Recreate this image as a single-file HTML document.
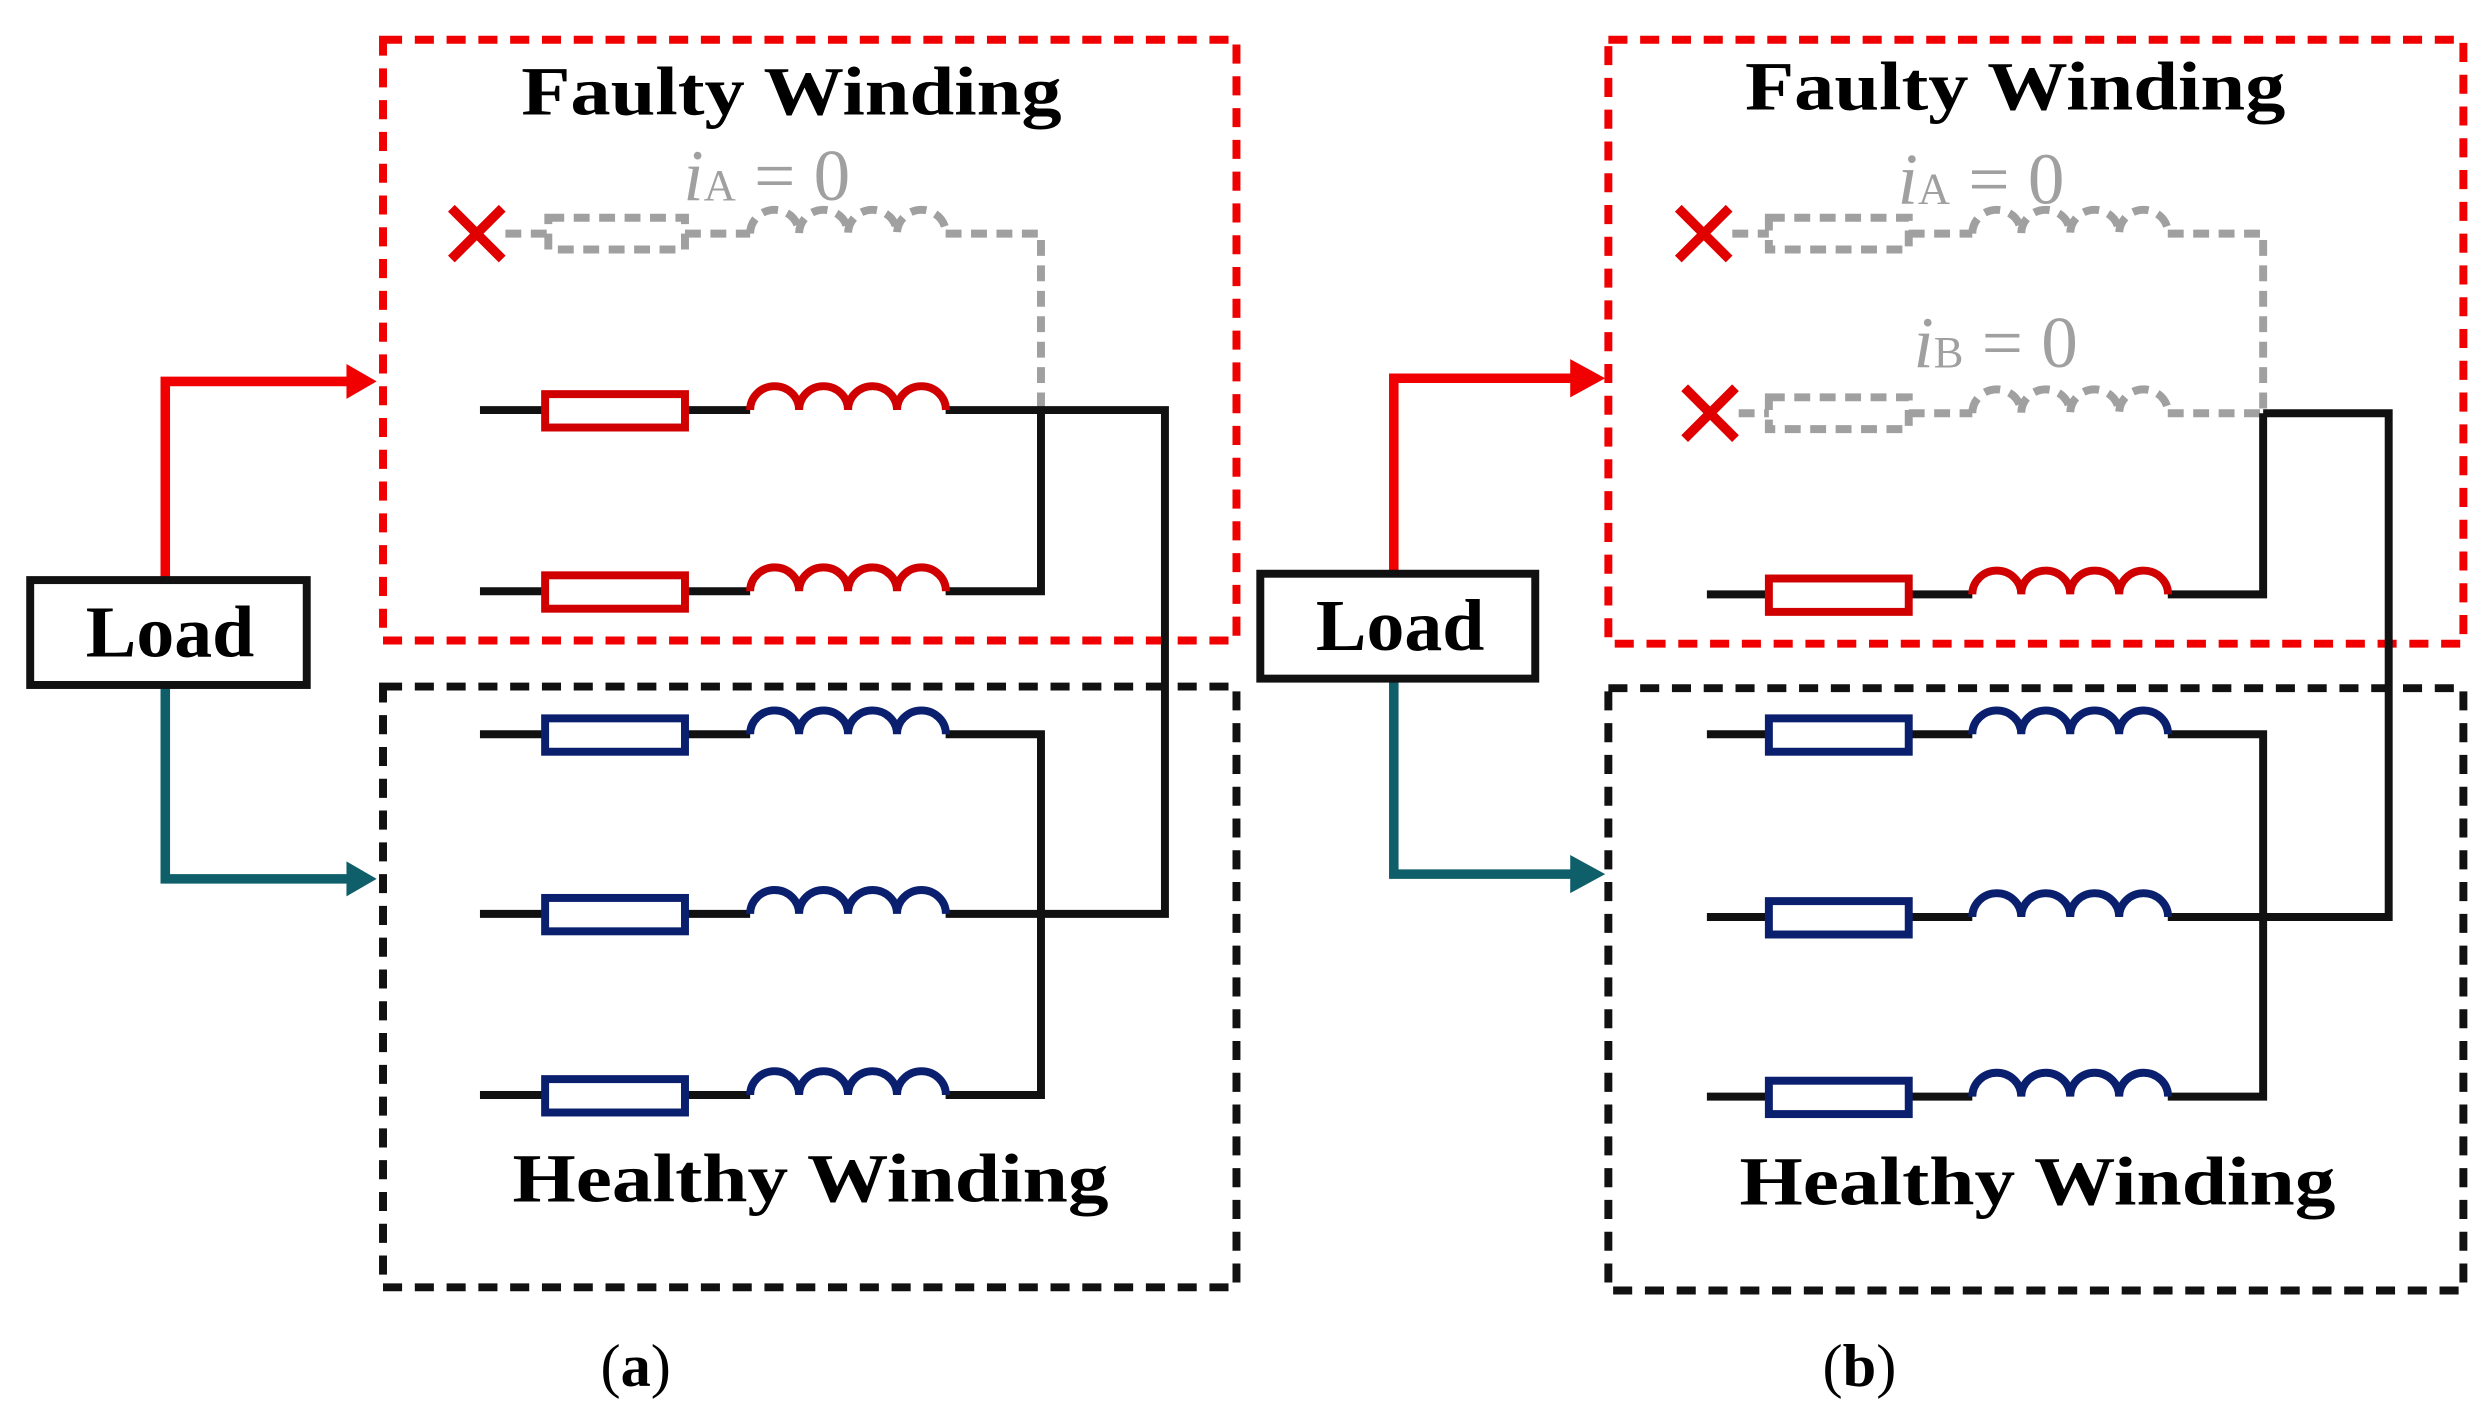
<!DOCTYPE html>
<html><head><meta charset="utf-8"><style>
html,body{margin:0;padding:0;background:#fff;}
svg{display:block;}
text{font-family:"Liberation Serif",serif;}
</style></head><body>
<svg width="2492" height="1424" viewBox="0 0 1568 896" preserveAspectRatio="none" xmlns="http://www.w3.org/2000/svg">
<defs>
<g id="ind"><path d="M0,0 a15.4,15 0 0 1 30.8,0 a15.4,15 0 0 1 30.8,0 a15.4,15 0 0 1 30.8,0 a15.4,15 0 0 1 30.8,0" fill="none" stroke-width="5"/></g>
</defs>
<rect width="1568" height="896" fill="#fff"/>

<!-- ===== Panel (a) ===== -->
<rect x="241" y="25" width="537" height="378" fill="none" stroke="#f00000" stroke-width="5" stroke-dasharray="12,8"/>
<rect x="241" y="432" width="537" height="378" fill="none" stroke="#111" stroke-width="5" stroke-dasharray="12,8"/>
<text x="498" y="72" font-size="43" font-weight="bold" text-anchor="middle" textLength="340" lengthAdjust="spacingAndGlyphs">Faulty Winding</text>
<text x="510" y="756" font-size="43" font-weight="bold" text-anchor="middle" textLength="375" lengthAdjust="spacingAndGlyphs">Healthy Winding</text>
<text x="400" y="872" font-size="38" text-anchor="middle">(<tspan font-weight="bold">a</tspan>)</text>

<text x="430" y="126" font-size="46" fill="#a0a0a0" font-style="italic">i<tspan font-size="28" font-style="normal">A</tspan><tspan font-style="normal"> = 0</tspan></text>
<g stroke="#a0a0a0" stroke-width="5" fill="none" stroke-dasharray="10,6">
<path d="M318,147 H345 M431,147 H472 M595,147 H655 V258"/>
<rect x="345" y="137" width="86" height="20"/>
<use href="#ind" x="472" y="147" stroke="#a0a0a0"/>
</g>
<path d="M284,131 L316,163 M316,131 L284,163" stroke="#e00000" stroke-width="6"/>

<g stroke="#111" stroke-width="5" fill="none">
<path d="M302,258 H343 M431,258 H472 M595,258 H733 V575 H595 M302,372 H343 M431,372 H472 M595,372 H655 V258"/>
<path d="M302,462 H343 M431,462 H472 M595,462 H655 V689 H595 M302,575 H343 M431,575 H472 M302,689 H343 M431,689 H472"/>
</g>
<g stroke="#d00000" fill="#fff" stroke-width="5">
<rect x="343" y="248" width="88" height="21"/><rect x="343" y="362" width="88" height="21"/>
<use href="#ind" x="472" y="258"/><use href="#ind" x="472" y="372"/>
</g>
<g stroke="#0a1f6e" fill="#fff" stroke-width="5">
<rect x="343" y="452" width="88" height="21"/><rect x="343" y="565" width="88" height="21"/><rect x="343" y="679" width="88" height="21"/>
<use href="#ind" x="472" y="462"/><use href="#ind" x="472" y="575"/><use href="#ind" x="472" y="689"/>
</g>

<path d="M104,364 V240 H220" stroke="#f00000" stroke-width="6" fill="none"/>
<path d="M218,229 L237,240 L218,251 Z" fill="#f00000"/>
<path d="M104,431 V553 H220" stroke="#0f5f6a" stroke-width="6" fill="none"/>
<path d="M218,542 L237,553 L218,564 Z" fill="#0f5f6a"/>
<rect x="19" y="365" width="174" height="66" fill="#fff" stroke="#111" stroke-width="5"/>
<text x="107" y="413" font-size="46" font-weight="bold" text-anchor="middle" textLength="106" lengthAdjust="spacingAndGlyphs">Load</text>

<!-- ===== Panel (b) ===== -->
<rect x="1012" y="25" width="538" height="380" fill="none" stroke="#f00000" stroke-width="5" stroke-dasharray="12,8"/>
<rect x="1012" y="433" width="538" height="379" fill="none" stroke="#111" stroke-width="5" stroke-dasharray="12,8"/>
<text x="1268" y="69" font-size="43" font-weight="bold" text-anchor="middle" textLength="340" lengthAdjust="spacingAndGlyphs">Faulty Winding</text>
<text x="1282" y="758" font-size="43" font-weight="bold" text-anchor="middle" textLength="375" lengthAdjust="spacingAndGlyphs">Healthy Winding</text>
<text x="1170" y="872" font-size="38" text-anchor="middle">(<tspan font-weight="bold">b</tspan>)</text>

<text x="1194" y="128" font-size="46" fill="#a0a0a0" font-style="italic">i<tspan font-size="28" font-style="normal">A</tspan><tspan font-style="normal"> = 0</tspan></text>
<text x="1204" y="231" font-size="46" fill="#a0a0a0" font-style="italic">i<tspan font-size="28" font-style="normal">B</tspan><tspan font-style="normal"> = 0</tspan></text>
<g stroke="#a0a0a0" stroke-width="5" fill="none" stroke-dasharray="10,6">
<path d="M1090,147 H1113 M1201,147 H1241 M1364,147 H1424 V260 M1094,260 H1113 M1201,260 H1241 M1364,260 H1424"/>
<rect x="1113" y="137" width="88" height="20"/><rect x="1113" y="250" width="88" height="20"/>
<use href="#ind" x="1241" y="147" stroke="#a0a0a0"/><use href="#ind" x="1241" y="260" stroke="#a0a0a0"/>
</g>
<path d="M1056,131 L1088,163 M1088,131 L1056,163" stroke="#e00000" stroke-width="6"/>
<path d="M1060,244 L1092,276 M1092,244 L1060,276" stroke="#e00000" stroke-width="6"/>

<g stroke="#111" stroke-width="5" fill="none">
<path d="M1424,260 H1503 V577 H1364 M1074,374 H1113 M1201,374 H1241 M1364,374 H1424 V260"/>
<path d="M1074,462 H1113 M1201,462 H1241 M1364,462 H1424 V690 H1364 M1074,577 H1113 M1201,577 H1241 M1074,690 H1113 M1201,690 H1241"/>
</g>
<g stroke="#d00000" fill="#fff" stroke-width="5">
<rect x="1113" y="364" width="88" height="21"/>
<use href="#ind" x="1241" y="374"/>
</g>
<g stroke="#0a1f6e" fill="#fff" stroke-width="5">
<rect x="1113" y="452" width="88" height="21"/><rect x="1113" y="567" width="88" height="21"/><rect x="1113" y="680" width="88" height="21"/>
<use href="#ind" x="1241" y="462"/><use href="#ind" x="1241" y="577"/><use href="#ind" x="1241" y="690"/>
</g>

<path d="M877,360 V238 H990" stroke="#f00000" stroke-width="6" fill="none"/>
<path d="M988,226 L1010,238 L988,250 Z" fill="#f00000"/>
<path d="M877,427 V550 H990" stroke="#0f5f6a" stroke-width="6" fill="none"/>
<path d="M988,538 L1010,550 L988,562 Z" fill="#0f5f6a"/>
<rect x="793" y="361" width="173" height="66" fill="#fff" stroke="#111" stroke-width="5"/>
<text x="881" y="409" font-size="46" font-weight="bold" text-anchor="middle" textLength="106" lengthAdjust="spacingAndGlyphs">Load</text>
</svg>
</body></html>
